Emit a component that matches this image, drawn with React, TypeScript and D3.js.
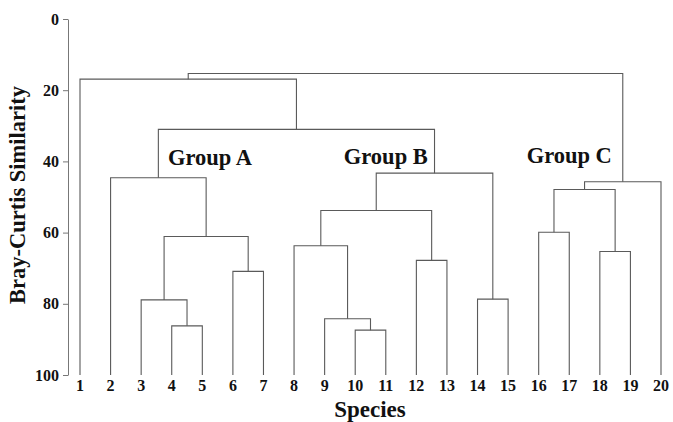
import React, { useEffect, useRef } from "react";
import * as d3 from "d3";

// leaf order along the x axis
const species = ["1", "2", "3", "4", "5", "6", "7", "8", "9", "10", "11", "12", "13", "14", "15", "16", "17", "18", "19", "20"];

// merges (R hclust style: negative = leaf number, positive = earlier merge)
const mergeLeft = [-4, -10, -9, -3, -14, -6, -12, -18, -8, 4, -16, 9, 11, 13, -2, 12, 15, -1, 18];
const mergeRight = [-5, -11, 2, 1, -15, -7, -13, -19, 3, 6, -17, 7, 8, -20, 10, 5, 16, 17, 14];
const mergeHeight = [86.2, 87.4, 84.2, 78.9, 78.7, 70.9, 67.8, 65.3, 63.7, 61.1, 59.9, 53.8, 47.9, 45.7, 44.6, 43.3, 31.0, 16.9, 15.3];

const yTicks = [0, 20, 40, 60, 80, 100];

const groupLabels = ["Group A", "Group B", "Group C"];
const groupLeaf = [5.25, 11.0, 17.0]; // centre of label, in leaf units
const groupLevel = [41.0, 40.7, 40.4]; // baseline of label, in similarity units

function App() {
  const canvas = useRef<HTMLDivElement>(null);

  const drawChart = () => {
    const width = 673;
    const height = 422;
    const font = "'Liberation Serif', 'Times New Roman', serif";
    const lineColor = "#5a5a5a";

    d3.select(canvas.current).selectAll("*").remove();

    const svg = d3
      .select(canvas.current)
      .append("svg")
      .attr("width", width)
      .attr("height", height)
      .style("position", "absolute")
      .style("left", 0)
      .style("top", 0)
      .style("background", "#fff");

    const x = d3.scalePoint<string>().domain(species).range([80, 661]);
    const y = d3.scaleLinear().domain([0, 100]).range([19, 375]);
    const xLeaf = d3.scaleLinear().domain([1, 20]).range([80, 661]);

    // positions of nodes: leaves from the point scale, merges at midpoint
    const nodeX: number[] = [];
    const nodeY: number[] = [];
    const pos = (id: number) =>
      id < 0
        ? { x: x(species[-id - 1]) as number, y: y(100) }
        : { x: nodeX[id - 1], y: nodeY[id - 1] };

    const links: string[] = [];
    mergeLeft.forEach((l, i) => {
      const a = pos(l);
      const b = pos(mergeRight[i]);
      const h = y(mergeHeight[i]);
      nodeX.push((a.x + b.x) / 2);
      nodeY.push(h);
      const p = d3.path();
      p.moveTo(a.x, a.y);
      p.lineTo(a.x, h);
      p.lineTo(b.x, h);
      p.lineTo(b.x, b.y);
      links.push(p.toString());
    });

    svg
      .append("g")
      .selectAll("path")
      .data(links)
      .enter()
      .append("path")
      .attr("d", (d) => d)
      .attr("fill", "none")
      .attr("stroke", lineColor)
      .attr("stroke-width", 1.1);

    // y axis
    const yAxis = svg
      .append("g")
      .attr("transform", "translate(68,0)")
      .call(d3.axisLeft(y).tickValues(yTicks).tickSize(5).tickSizeOuter(0).tickPadding(4));
    yAxis.select(".domain").attr("stroke", "#777");
    yAxis.selectAll(".tick line").attr("stroke", "#777");
    yAxis
      .selectAll(".tick text")
      .attr("fill", "#111")
      .style("font-family", font)
      .style("font-weight", "bold")
      .style("font-size", "16px");

    // leaf labels
    svg
      .append("g")
      .selectAll("text")
      .data(species)
      .enter()
      .append("text")
      .attr("x", (d) => x(d) as number)
      .attr("y", 391)
      .attr("text-anchor", "middle")
      .style("font-family", font)
      .style("font-weight", "bold")
      .style("font-size", "16px")
      .attr("fill", "#111")
      .text((d) => d);

    // group labels
    svg
      .append("g")
      .selectAll("text")
      .data(groupLabels)
      .enter()
      .append("text")
      .attr("x", (d, i) => xLeaf(groupLeaf[i]))
      .attr("y", (d, i) => y(groupLevel[i]))
      .attr("text-anchor", "middle")
      .style("font-family", font)
      .style("font-weight", "bold")
      .style("font-size", "22.5px")
      .attr("fill", "#111")
      .text((d) => d);

    svg
      .append("text")
      .attr("text-anchor", "middle")
      .attr("x", 370)
      .attr("y", 416.5)
      .style("font-family", font)
      .style("font-weight", "bold")
      .style("font-size", "23px")
      .attr("fill", "#111")
      .text("Species");

    svg
      .append("text")
      .attr("text-anchor", "middle")
      .attr("transform", "translate(25,195) rotate(-90)")
      .style("font-family", font)
      .style("font-weight", "bold")
      .style("font-size", "22.5px")
      .attr("fill", "#111")
      .text("Bray-Curtis Similarity");
  };

  useEffect(() => {
    drawChart();
  }, []);

  return <div ref={canvas}></div>;
}

export default App;
